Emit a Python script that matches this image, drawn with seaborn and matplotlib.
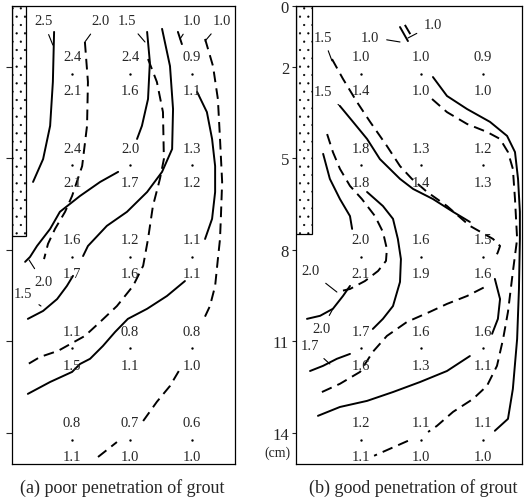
import matplotlib
matplotlib.use("Agg")
import matplotlib.pyplot as plt
import seaborn as sns
from matplotlib.patches import Rectangle

# measurement grid (depth in cm), three columns per panel
depths = [2, 5, 8, 11, 14]
cols_a = [1.97, 3.87, 5.9]
cols_b = [2.13, 4.1, 6.13]

# (a) poor penetration: value above / below each measuring point
upper_a = [[2.4, 2.4, 0.9], [2.4, 2.0, 1.3], [1.6, 1.2, 1.1], [1.1, 0.8, 0.8], [0.8, 0.7, 0.6]]
lower_a = [[2.1, 1.6, 1.1], [2.1, 1.7, 1.2], [1.7, 1.6, 1.1], [1.5, 1.1, 1.0], [1.1, 1.0, 1.0]]

# (b) good penetration
upper_b = [[1.0, 1.0, 0.9], [1.8, 1.3, 1.2], [2.0, 1.6, 1.5], [1.7, 1.6, 1.6], [1.2, 1.1, 1.1]]
lower_b = [[1.4, 1.0, 1.0], [1.8, 1.4, 1.3], [2.1, 1.9, 1.6], [1.6, 1.3, 1.1], [1.1, 1.0, 1.0]]

# iso-lines, (x cm, depth cm)
solid_a = [
    [(1.38, 0.85), (1.34, 2.49), (1.25, 3.93), (1.02, 5.02), (0.69, 5.77)],
    [(4.43, 0.85), (4.52, 1.84), (4.46, 3.05), (4.26, 3.93), (4.10, 4.36)],
    [(4.92, 0.75), (5.18, 1.97), (5.28, 3.38), (5.25, 4.69), (4.92, 5.44), (4.43, 6.10),
     (3.77, 6.75), (3.11, 7.21), (2.49, 7.87), (2.33, 8.20)],
    [(3.48, 5.44), (2.89, 5.77), (2.23, 6.23), (1.57, 6.75), (1.25, 7.31), (0.82, 7.87),
     (0.59, 8.23), (0.43, 8.39)],
    [(0.52, 10.26), (1.02, 10.0), (1.48, 9.61), (1.80, 9.18), (2.0, 8.85)],
    [(5.67, 9.02), (5.08, 9.51), (4.43, 9.93), (3.80, 10.26), (3.38, 10.69), (2.98, 11.15),
     (2.56, 11.57), (2.23, 11.74), (1.97, 12.0), (1.25, 12.33), (0.52, 12.72)],
    [(6.07, 2.82), (6.39, 3.48), (6.56, 4.36), (6.66, 5.25), (6.66, 6.10), (6.56, 6.98), (6.33, 7.64)],
    [(5.44, 0.85), (5.57, 1.25)],
]
dashed_a = [
    [(2.39, 1.18), (2.49, 2.49), (2.46, 3.93), (2.30, 5.25), (1.97, 6.23), (1.74, 6.75),
     (1.41, 7.31), (1.18, 7.80), (1.05, 8.30)],
    [(4.46, 1.74), (4.75, 2.49), (4.95, 3.48), (4.98, 5.02), (4.85, 5.67), (4.62, 6.56),
     (4.46, 7.64), (4.30, 8.52), (3.97, 9.18), (3.44, 9.84), (2.89, 10.36), (2.39, 10.82),
     (1.51, 11.31), (0.92, 11.51), (0.43, 11.80)],
    [(6.33, 1.08), (6.59, 1.97), (6.75, 3.05), (6.82, 4.36), (6.89, 5.77), (6.85, 6.89),
     (6.82, 7.64), (6.75, 8.30), (6.66, 9.18), (6.49, 9.84), (6.26, 10.33)],
    [(4.30, 13.61), (4.75, 12.98), (5.18, 12.46), (5.57, 11.80)],
    [(2.82, 14.79), (3.44, 14.30)],
]
solid_b = [
    [(3.41, 0.69), (3.67, 1.15)],
    [(1.44, 3.28), (1.87, 3.80), (2.33, 4.36), (2.75, 5.02), (3.41, 5.67), (3.84, 6.0),
     (4.49, 6.33), (5.15, 6.75), (5.70, 7.08)],
    [(4.49, 2.33), (4.95, 2.95), (5.61, 3.38), (6.36, 3.80), (6.92, 4.26), (7.18, 4.79),
     (7.28, 5.67), (7.34, 6.75), (7.34, 7.64), (7.31, 9.28), (7.25, 10.92), (7.11, 12.56),
     (6.95, 13.54), (6.52, 13.93)],
    [(0.89, 4.85), (1.11, 5.67), (1.44, 6.33), (1.77, 6.89), (1.84, 7.31)],
    [(2.33, 6.10), (2.85, 6.56), (3.18, 6.98), (3.34, 7.64), (3.44, 8.30), (3.41, 9.05),
     (3.18, 9.84), (2.85, 10.26), (2.52, 10.59)],
    [(0.36, 10.26), (0.79, 10.16), (1.21, 9.93), (1.54, 9.51), (1.77, 9.18)],
    [(0.46, 11.97), (0.89, 11.80), (1.34, 11.57), (1.77, 11.41)],
    [(0.72, 13.44), (1.44, 13.15), (2.33, 12.95), (3.18, 12.66), (4.07, 12.33), (4.95, 11.97),
     (5.70, 11.48)],
    [(6.52, 8.95), (6.69, 9.61), (6.62, 10.26), (6.43, 10.75)],
]
dashed_b = [
    [(3.57, 0.62), (3.84, 1.08)],
    [(1.18, 1.74), (1.54, 2.39), (2.0, 3.15), (2.43, 3.80), (2.98, 4.59), (3.41, 5.25),
     (3.80, 5.67), (4.30, 6.10), (4.95, 6.56), (5.70, 7.21), (6.46, 7.64), (6.69, 7.87),
     (6.62, 8.07), (6.52, 8.30)],
    [(4.46, 3.05), (4.95, 3.48), (5.61, 3.87), (6.26, 4.13), (6.69, 4.36), (6.95, 4.79),
     (7.11, 5.34), (7.18, 6.33), (7.25, 7.64), (7.11, 8.72), (6.95, 10.03), (6.79, 10.92),
     (6.59, 11.80), (6.26, 12.46), (5.80, 12.89), (5.15, 13.31), (4.62, 13.77), (4.33, 13.97)],
    [(3.67, 14.26), (2.56, 14.75)],
    [(1.02, 4.20), (1.21, 4.79), (1.44, 5.34), (1.77, 5.90), (2.16, 6.33), (2.59, 6.89),
     (2.85, 7.41), (2.98, 7.97), (2.95, 8.36), (2.69, 8.69), (2.26, 9.02), (1.77, 9.28), (1.34, 9.38)],
    [(0.85, 12.66), (1.44, 12.39), (2.10, 12.0), (2.52, 11.34), (2.98, 10.82), (3.64, 10.36),
     (4.39, 10.03), (4.95, 9.77), (5.61, 9.51), (6.26, 9.18)],
]

# iso-line labels: text, label position, point on the line
leaders_a = [
    ("2.5", (1.02, 0.49), (1.34, 1.28)),
    ("2.0", (2.89, 0.49), (2.39, 1.18)),
    ("1.5", (3.77, 0.49), (4.36, 1.18)),
    ("1.0", (5.90, 0.49), (5.51, 1.08)),
    ("1.0", (6.89, 0.49), (6.33, 1.15)),
    ("2.0", (1.02, 9.05), (0.56, 8.33)),
    ("1.5", (0.36, 9.44), (0.95, 9.84)),
]
leaders_b = [
    ("1.0", (2.43, 1.02), (3.41, 1.18)),
    ("1.0", (4.49, 0.62), (3.67, 1.05)),
    ("1.5", (0.89, 1.02), (1.18, 1.80)),
    ("1.5", (0.89, 2.82), (1.44, 3.28)),
    ("2.0", (0.46, 8.69), (1.34, 9.38)),
    ("2.0", (0.85, 10.59), (1.21, 9.93)),
    ("1.7", (0.46, 11.15), (1.11, 11.74)),
]

depth_ticks = [0, 2, 5, 8, 11, 14]
grout_a = (0.46, 7.54)
grout_b = (0.52, 7.48)

sns.set_theme(style="white")
plt.rcParams['font.family'] = ['Liberation Serif', 'DejaVu Serif']
plt.rcParams['hatch.linewidth'] = 0.35
plt.rcParams['hatch.color'] = '#333333'

fig = plt.figure(figsize=(5.27, 5.02), dpi=100)
ax_a = fig.add_axes([12 / 527, 37 / 502, 223 / 527, 458 / 502])
ax_b = fig.add_axes([296 / 527, 37 / 502, 226 / 527, 458 / 502])


def draw_panel(ax, cols, upper, lower, solids, dashes, leaders, grout, width):
    ax.set_xlim(0, width)
    ax.set_ylim(15.02, 0)
    ax.set_xticks([])
    for sp in ax.spines.values():
        sp.set_color('black')
        sp.set_linewidth(0.9)
    ax.add_patch(Rectangle((0, 0), grout[0], grout[1], facecolor='white',
                           edgecolor='black', hatch='..', linewidth=0.9))

    for path in solids:
        xs, ys = zip(*path)
        sns.lineplot(x=list(xs), y=list(ys), sort=False, estimator=None, ax=ax,
                     color='black', linewidth=1.4)
    for path in dashes:
        xs, ys = zip(*path)
        sns.lineplot(x=list(xs), y=list(ys), sort=False, estimator=None, ax=ax,
                     color='black', linewidth=1.4)
        ax.get_lines()[-1].set_dashes([5.5, 3.2])

    px, py = [], []
    for i, d in enumerate(depths):
        for j, c in enumerate(cols):
            ax.text(c, d - 0.33, f"{upper[i][j]:.1f}", ha='center', va='center', fontsize=10.5)
            ax.text(c, d + 0.78, f"{lower[i][j]:.1f}", ha='center', va='center', fontsize=10.5)
            px.append(c)
            py.append(d + 0.22)
    sns.scatterplot(x=px, y=py, ax=ax, color='black', s=3, linewidth=0)

    for txt, lpos, tpos in leaders:
        ax.annotate(txt, xy=tpos, xytext=lpos, ha='center', va='center', fontsize=10.5,
                    arrowprops=dict(arrowstyle='-', color='black', lw=0.8, shrinkA=3, shrinkB=0))


draw_panel(ax_a, cols_a, upper_a, lower_a, solid_a, dashed_a, leaders_a, grout_a, 223 / 30.5)
draw_panel(ax_b, cols_b, upper_b, lower_b, solid_b, dashed_b, leaders_b, grout_b, 226 / 30.5)

ax_a.set_yticks(depth_ticks[1:])
ax_a.set_yticklabels([])
ax_a.tick_params(axis='y', direction='out', length=4, width=0.8, left=True)

ax_b.set_yticks(depth_ticks)
ax_b.set_yticklabels([str(t) for t in depth_ticks], fontsize=12)
ax_b.tick_params(axis='y', direction='out', length=3, width=0.8, left=True, pad=2)
ax_b.text(-0.62, 14.62, "(cm)", ha='center', va='center', fontsize=10, clip_on=False)

fig.text(122 / 527, 1 - 488 / 502, "(a) poor penetration of grout", ha='center', va='center', fontsize=13)
fig.text(413 / 527, 1 - 488 / 502, "(b) good penetration of grout", ha='center', va='center', fontsize=13)

fig.savefig("out.png", dpi=100)
